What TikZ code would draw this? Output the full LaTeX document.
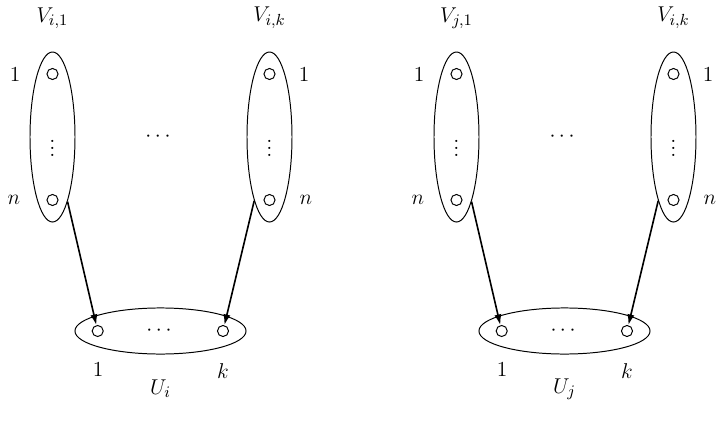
\documentclass[tikz,border=0pt]{standalone}
\usetikzlibrary{shapes.geometric,arrows.meta}
\begin{document}
\begin{tikzpicture}[x=0.56pt,y=-0.56pt,
  font=\fontsize{12.5}{15}\selectfont,
  vset/.style={draw,line width=0.55pt,ellipse,inner sep=0pt,minimum width=25.2pt,minimum height=95.2pt},
  uset/.style={draw,line width=0.55pt,ellipse,inner sep=0pt,minimum width=95.8pt,minimum height=25.8pt},
  pt/.style={draw,line width=0.55pt,circle,inner sep=0pt,minimum size=6.2pt},
  lbl/.style={inner sep=0pt},
  arr/.style={line width=0.9pt,-{Latex[length=6pt,width=4pt]}}]
\useasboundingbox (0,0) rectangle (723,430);
\foreach \o/\g/\ga/\gb in {0/i/i/i,404/j/j/i}{
  % left V ellipse
  \node[vset] (L\g) at (52.5+\o,137) {};
  \node[pt] (Lt\g) at (52.5+\o,74) {};
  \node[pt] (Lb\g) at (52.5+\o,200) {};
  \node[lbl] (Ld\g) at (52.5+\o,143) {$\vdots$};
  \node[lbl] (L1\g) at (15+\o,75) {$1$};
  \node[lbl] (Ln\g) at (14+\o,200) {$n$};
  \node[lbl] (LV\g) at (52.5+\o,18) {$V_{\ga,1}$};
  % right V ellipse
  \node[vset] (R\g) at (269.5+\o,137) {};
  \node[pt] (Rt\g) at (269.5+\o,74) {};
  \node[pt] (Rb\g) at (269.5+\o,200) {};
  \node[lbl] (Rd\g) at (269.5+\o,143) {$\vdots$};
  \node[lbl] (R1\g) at (304+\o,75) {$1$};
  \node[lbl] (Rn\g) at (306+\o,200) {$n$};
  \node[lbl] (RV\g) at (269.5+\o,18) {$V_{\gb,k}$};
  % middle dots
  \node[lbl] (M\g) at (158+\o,137) {$\cdots$};
  % U ellipse
  \node[uset] (U\g) at (160.5+\o,331) {};
  \node[pt] (Ua\g) at (97.7+\o,331) {};
  \node[pt] (Ub\g) at (223+\o,331) {};
  \node[lbl] (Ud\g) at (159+\o,331) {$\cdots$};
  \node[lbl] (U1\g) at (98+\o,370) {$1$};
  \node[lbl] (Uk\g) at (223+\o,371) {$k$};
  \node[lbl] (UU\g) at (160.5+\o,389) {$U_\g$};
  % arrows
  \draw[arr] (L\g) -- (Ua\g);
  \draw[arr] (R\g) -- (Ub\g);
}
\end{tikzpicture}
\end{document}
